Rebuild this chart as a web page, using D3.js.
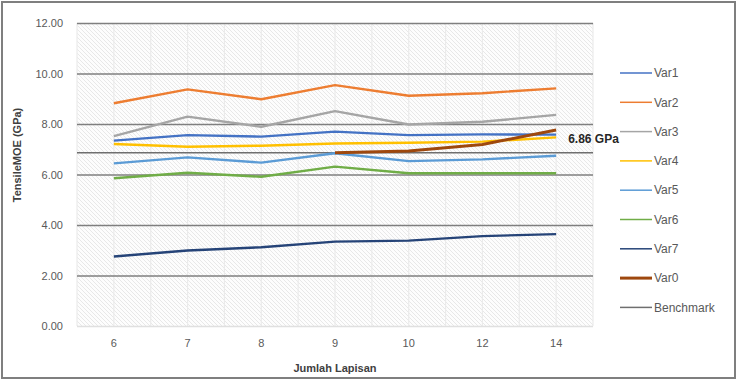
<!DOCTYPE html>
<html>
<head>
<meta charset="utf-8">
<script src="https://cdn.jsdelivr.net/npm/d3@7"></script>
<style>
    body { margin: 0; background: #fff; }
    svg { font-family: "Liberation Sans", Arial, sans-serif; }
    .tick text { fill: #595959; font-size: 11px; }
    .legendText { fill: #595959; font-size: 12px; }
    .axisTitle { fill: #404040; font-size: 11px; font-weight: bold; }
</style>
</head>
<body>
<script>
(function(){

    //data
    var categories = ["6", "7", "8", "9", "10", "12", "14"];
    var yTicks = [0, 2, 4, 6, 8, 10, 12];
    var var1 = [7.34, 7.56, 7.50, 7.70, 7.56, 7.59, 7.58];
    var var2 = [8.82, 9.37, 8.98, 9.54, 9.12, 9.22, 9.41];
    var var3 = [7.52, 8.29, 7.89, 8.51, 7.98, 8.09, 8.36];
    var var4 = [7.21, 7.10, 7.14, 7.23, 7.26, 7.30, 7.47];
    var var5 = [6.44, 6.68, 6.47, 6.84, 6.53, 6.60, 6.74];
    var var6 = [5.85, 6.07, 5.91, 6.31, 6.05, 6.05, 6.05];
    var var7 = [2.75, 2.99, 3.12, 3.34, 3.38, 3.56, 3.64];
    var var0 = [null, null, null, 6.86, 6.93, 7.19, 7.76];
    var benchmark = 6.86;

    var seriesNames = ["Var1", "Var2", "Var3", "Var4", "Var5", "Var6", "Var7", "Var0"];
    var seriesValues = [var1, var2, var3, var4, var5, var6, var7, var0];
    var seriesColors = ["#4472C4", "#ED7D31", "#A5A5A5", "#FFC000", "#5B9BD5", "#70AD47", "#264478", "#9E480E"];
    var seriesWidths = [2.4, 2.4, 2.4, 2.4, 2.4, 2.4, 2.4, 3];

    var width = 742, height = 380;
    var plot = {left: 77, right: 593, top: 23, bottom: 326};

    var svg = d3.select("body")
        .append("svg")
        .attr("width", width)
        .attr("height", height);

    //hatch pattern for plot background
    var defs = svg.append("defs");
    var hatch = defs.append("pattern")
        .attr("id", "hatch")
        .attr("patternUnits", "userSpaceOnUse")
        .attr("width", 4)
        .attr("height", 4);
    hatch.append("rect").attr("width", 4).attr("height", 4).attr("fill", "#fdfdfd");
    hatch.append("path")
        .attr("d", "M-1,-1 L5,5 M-1,3 L1,5 M3,-1 L5,1")
        .attr("stroke", "#e2e2e2")
        .attr("stroke-width", 0.8);

    //outer chart frame
    svg.append("rect")
        .attr("x", 2)
        .attr("y", 2)
        .attr("width", 733)
        .attr("height", 376)
        .attr("fill", "#fff")
        .attr("stroke", "#7f7f7f")
        .attr("stroke-width", 2);

    var xScale = d3.scaleBand().domain(categories).range([plot.left, plot.right]);
    var yScale = d3.scaleLinear().domain([0, 12]).range([plot.bottom, plot.top]);
    var xMid = function(c){ return xScale(c) + xScale.bandwidth() / 2; };

    svg.append("rect")
        .attr("x", plot.left)
        .attr("y", plot.top)
        .attr("width", plot.right - plot.left)
        .attr("height", plot.bottom - plot.top)
        .attr("fill", "url(#hatch)");

    //faint vertical gridlines at band centres and edges
    var vLines = categories.map(xMid).concat(categories.map(function(c){ return xScale(c); })).concat([plot.right]);
    svg.append("g").selectAll("line")
        .data(vLines)
        .enter()
        .append("line")
        .attr("x1", function(d){ return d; })
        .attr("x2", function(d){ return d; })
        .attr("y1", plot.top)
        .attr("y2", plot.bottom)
        .attr("stroke", "#ebebeb")
        .attr("stroke-width", 1.2);

    //y axis with horizontal gridlines
    var yAxis = d3.axisLeft(yScale)
        .tickValues(yTicks)
        .tickFormat(d3.format(".2f"))
        .tickSize(-(plot.right - plot.left))
        .tickPadding(14);
    var yg = svg.append("g")
        .attr("transform", "translate(" + plot.left + ",0)")
        .call(yAxis);
    yg.select(".domain").remove();
    yg.selectAll(".tick line")
        .attr("stroke", function(d){ return d === 0 ? "#e0e0e0" : "#7f7f7f"; })
        .attr("stroke-width", 1.3);

    //x axis labels
    var xAxis = d3.axisBottom(xScale).tickSize(0).tickPadding(13);
    var xg = svg.append("g")
        .attr("transform", "translate(0," + plot.bottom + ")")
        .call(xAxis);
    xg.select(".domain").remove();

    //benchmark line
    svg.append("line")
        .attr("x1", plot.left)
        .attr("x2", plot.right)
        .attr("y1", yScale(benchmark))
        .attr("y2", yScale(benchmark))
        .attr("stroke", "#6f6f6f")
        .attr("stroke-width", 1.5);

    //series lines
    var line = d3.line()
        .defined(function(d){ return d.v !== null; })
        .x(function(d){ return xMid(d.c); })
        .y(function(d){ return yScale(d.v); });

    seriesValues.forEach(function(vals, i){
        svg.append("path")
            .datum(vals.map(function(v, j){ return {c: categories[j], v: v}; }))
            .attr("fill", "none")
            .attr("stroke", seriesColors[i])
            .attr("stroke-width", seriesWidths[i])
            .attr("stroke-linejoin", "round")
            .attr("d", line);
    });

    //benchmark value label
    svg.append("text")
        .attr("x", xMid("14") + 12)
        .attr("y", yScale(benchmark) - 10)
        .attr("fill", "#262626")
        .style("font-size", "12px")
        .style("font-weight", "bold")
        .text("6.86 GPa");

    //axis titles
    svg.append("text")
        .attr("class", "axisTitle")
        .attr("x", (plot.left + plot.right) / 2)
        .attr("y", 372)
        .attr("text-anchor", "middle")
        .text("Jumlah Lapisan");

    svg.append("text")
        .attr("class", "axisTitle")
        .attr("text-anchor", "middle")
        .attr("transform", "translate(21,155)rotate(-90)")
        .text("TensileMOE (GPa)");

    //legend
    var legendNames = seriesNames.concat(["Benchmark"]);
    var legendColors = seriesColors.concat(["#6f6f6f"]);
    var legendWidths = [1.5, 1.5, 1.5, 1.5, 1.5, 1.5, 1.5, 3, 1.5];
    var legend = svg.append("g").selectAll("g")
        .data(legendNames)
        .enter()
        .append("g")
        .attr("transform", function(d, i){ return "translate(620," + (73 + i * 29.3) + ")"; });
    legend.append("line")
        .attr("x1", 0)
        .attr("x2", 32)
        .attr("stroke", function(d, i){ return legendColors[i]; })
        .attr("stroke-width", function(d, i){ return legendWidths[i]; });
    legend.append("text")
        .attr("class", "legendText")
        .attr("x", 34)
        .attr("dy", "0.35em")
        .text(function(d){ return d; });

})();
</script>
</body>
</html>
